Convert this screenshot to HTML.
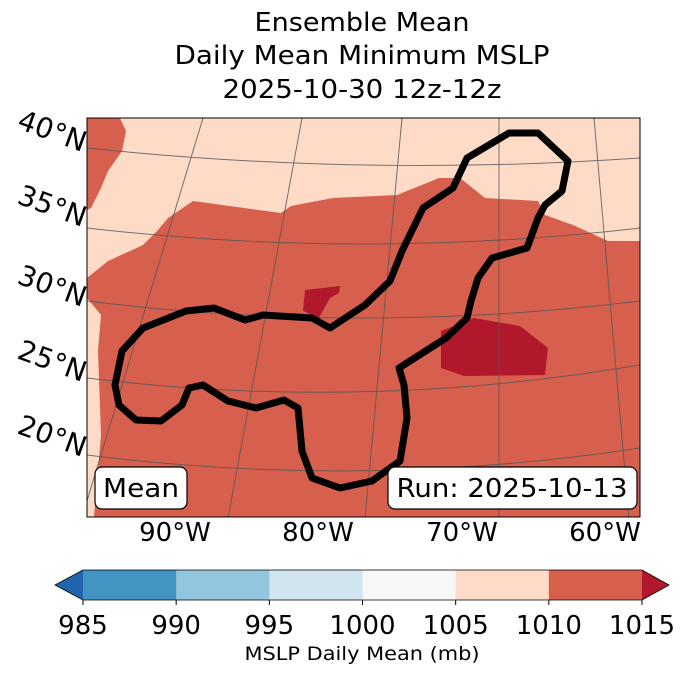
<!DOCTYPE html>
<html><head><meta charset="utf-8"><style>
body{margin:0;background:#fff;}
svg{display:block;font-family:"DejaVu Sans","Liberation Sans",sans-serif;}
</style></head><body>
<svg width="688" height="674" viewBox="0 0 688 674">
<g font-size="26" text-anchor="middle" fill="#000">
<text x="362" y="31" textLength="215" lengthAdjust="spacingAndGlyphs">Ensemble Mean</text>
<text x="362" y="64" textLength="375" lengthAdjust="spacingAndGlyphs">Daily Mean Minimum MSLP</text>
<text x="362" y="98" textLength="279" lengthAdjust="spacingAndGlyphs">2025-10-30 12z-12z</text>
</g>
<defs><clipPath id="mc"><rect x="87" y="118" width="553" height="399"/></clipPath></defs>
<g clip-path="url(#mc)">
<rect x="87" y="118" width="553" height="399" fill="#fddbc7"/>
<polygon fill="#d6604d" points="193,201 281,213 291,206 333,198 397,195 439,178 460,178 485,198 538,201 545,215 573,225 608,241 640,241 640,517 94,517 101,435 98,351 101,315 87,298 87,278 108,261 143,245 157,231 168,218"/>
<polygon fill="#d6604d" points="87,118 120,118 126,131 122,151 108,171 101,188 91,208 87,210"/>
<polygon fill="#b2182b" points="305,290 340,286 339,293 330,298 319,318 303,311"/>
<polygon fill="#b2182b" points="441,331 474,318 520,326 548,348 545,375 464,376 441,368"/>
<g stroke="#555" stroke-width="1" fill="none" opacity="0.8">
<path d="M87,148 Q363,177 640,158"/>
<path d="M87,228 Q363,260 640,228"/>
<path d="M87,301 Q363,335 640,301"/>
<path d="M87,378 Q363,412 640,365"/>
<path d="M87,455 Q363,490 640,448"/>
<line x1="203" y1="118" x2="87" y2="501"/>
<line x1="302" y1="118" x2="228" y2="518"/>
<line x1="402" y1="118" x2="365" y2="518"/>
<line x1="499" y1="118" x2="499" y2="518"/>
<line x1="594" y1="118" x2="629" y2="518"/>
</g>
<polygon fill="none" stroke="#000" stroke-width="7" stroke-linejoin="round" points="115,385 122,351 143,328 186,311 214,308 245,320 263,315 312,318 330,328 365,305 390,281 402,251 423,208 453,188 467,158 509,133 538,133 568,161 562,191 545,205 538,218 527,248 492,258 478,278 471,301 467,318 446,338 399,368 404,385 407,418 400,461 372,481 340,488 312,478 302,451 298,408 284,400 256,408 228,401 203,385 189,388 182,405 161,421 136,420 119,405"/>
</g>
<rect x="87" y="118" width="553" height="399" fill="none" stroke="#000" stroke-width="1"/>
<g>
<rect x="95" y="467" width="92" height="42" rx="7" fill="#fff" stroke="#000" stroke-width="1.2"/>
<text x="141" y="497" font-size="26" text-anchor="middle" textLength="76" lengthAdjust="spacingAndGlyphs">Mean</text>
</g>
<g>
<rect x="388" y="467" width="249" height="42" rx="7" fill="#fff" stroke="#000" stroke-width="1.2"/>
<text x="512" y="497" font-size="26" text-anchor="middle" textLength="231" lengthAdjust="spacingAndGlyphs">Run: 2025-10-13</text>
</g>
<g id="latlabels" font-size="28"></g>
<g id="lonlabels" font-size="26" text-anchor="middle"></g>
<g id="cbar"></g>
<text x="362" y="660" font-size="19" text-anchor="middle" textLength="235" lengthAdjust="spacingAndGlyphs">MSLP Daily Mean (mb)</text>
</svg>
<script>
const latLabels = ["40°N","35°N","30°N","25°N","20°N"];
const latY = [130,205,285,360,435];
const lonLabels = ["90°W","80°W","70°W","60°W"];
const lonX = [175,318,462,605];
const cbTicks = [985,990,995,1000,1005,1010,1015];
const cbColors = ["#4393c3","#92c5de","#d1e5f0","#f7f7f7","#fddbc7","#d6604d"];
const cbUnder = "#2166ac";
const cbOver = "#b2182b";
const NS = "http://www.w3.org/2000/svg";
const latG = document.getElementById('latlabels');
latLabels.forEach((t,i)=>{
  const el=document.createElementNS(NS,'text');
  
  
  el.setAttribute('text-anchor','middle');
  el.setAttribute('transform','translate(49,'+(latY[i]+10)+') rotate(20)');
  el.textContent=t; latG.appendChild(el);
});
const lonG = document.getElementById('lonlabels');
lonLabels.forEach((t,i)=>{
  const el=document.createElementNS(NS,'text');
  
  
  el.setAttribute('x',lonX[i]); el.setAttribute('y',541);
  el.textContent=t; lonG.appendChild(el);
});
const cb=document.getElementById('cbar');
const x0=83,x1=642,y0=570,y1=600;
const lo=cbTicks[0],hi=cbTicks[cbTicks.length-1];
const sx=v=>x0+(v-lo)/(hi-lo)*(x1-x0);
cbColors.forEach((c,i)=>{
  const r=document.createElementNS(NS,'rect');
  
  
  r.setAttribute('x',sx(cbTicks[i])); r.setAttribute('y',y0);
  r.setAttribute('width',sx(cbTicks[i+1])-sx(cbTicks[i])+0.5); r.setAttribute('height',y1-y0);
  r.setAttribute('fill',c); cb.appendChild(r);
});
const tl=document.createElementNS(NS,'polygon');


tl.setAttribute('points',`${x0},${y0} 55,${(y0+y1)/2} ${x0},${y1}`);
tl.setAttribute('fill',cbUnder); cb.appendChild(tl);
const tr=document.createElementNS(NS,'polygon');


tr.setAttribute('points',`${x1},${y0} 669,${(y0+y1)/2} ${x1},${y1}`);
tr.setAttribute('fill',cbOver); cb.appendChild(tr);
const ol=document.createElementNS(NS,'polygon');


ol.setAttribute('points',`${x0},${y0} ${x1},${y0} 669,${(y0+y1)/2} ${x1},${y1} ${x0},${y1} 55,${(y0+y1)/2}`);
ol.setAttribute('fill','none'); ol.setAttribute('stroke','#000'); ol.setAttribute('stroke-width','0.8');
cb.appendChild(ol);
cbTicks.forEach(v=>{
  const tk=document.createElementNS(NS,'line');
  
  
  tk.setAttribute('x1',sx(v)); tk.setAttribute('x2',sx(v));
  tk.setAttribute('y1',y1); tk.setAttribute('y2',y1+5);
  tk.setAttribute('stroke','#000'); cb.appendChild(tk);
  const t=document.createElementNS(NS,'text');
  
  
  t.setAttribute('x',sx(v)); t.setAttribute('y',634);
  t.setAttribute('font-size','26'); t.setAttribute('text-anchor','middle');
  t.textContent=v; cb.appendChild(t);
});
</script>
</body></html>
